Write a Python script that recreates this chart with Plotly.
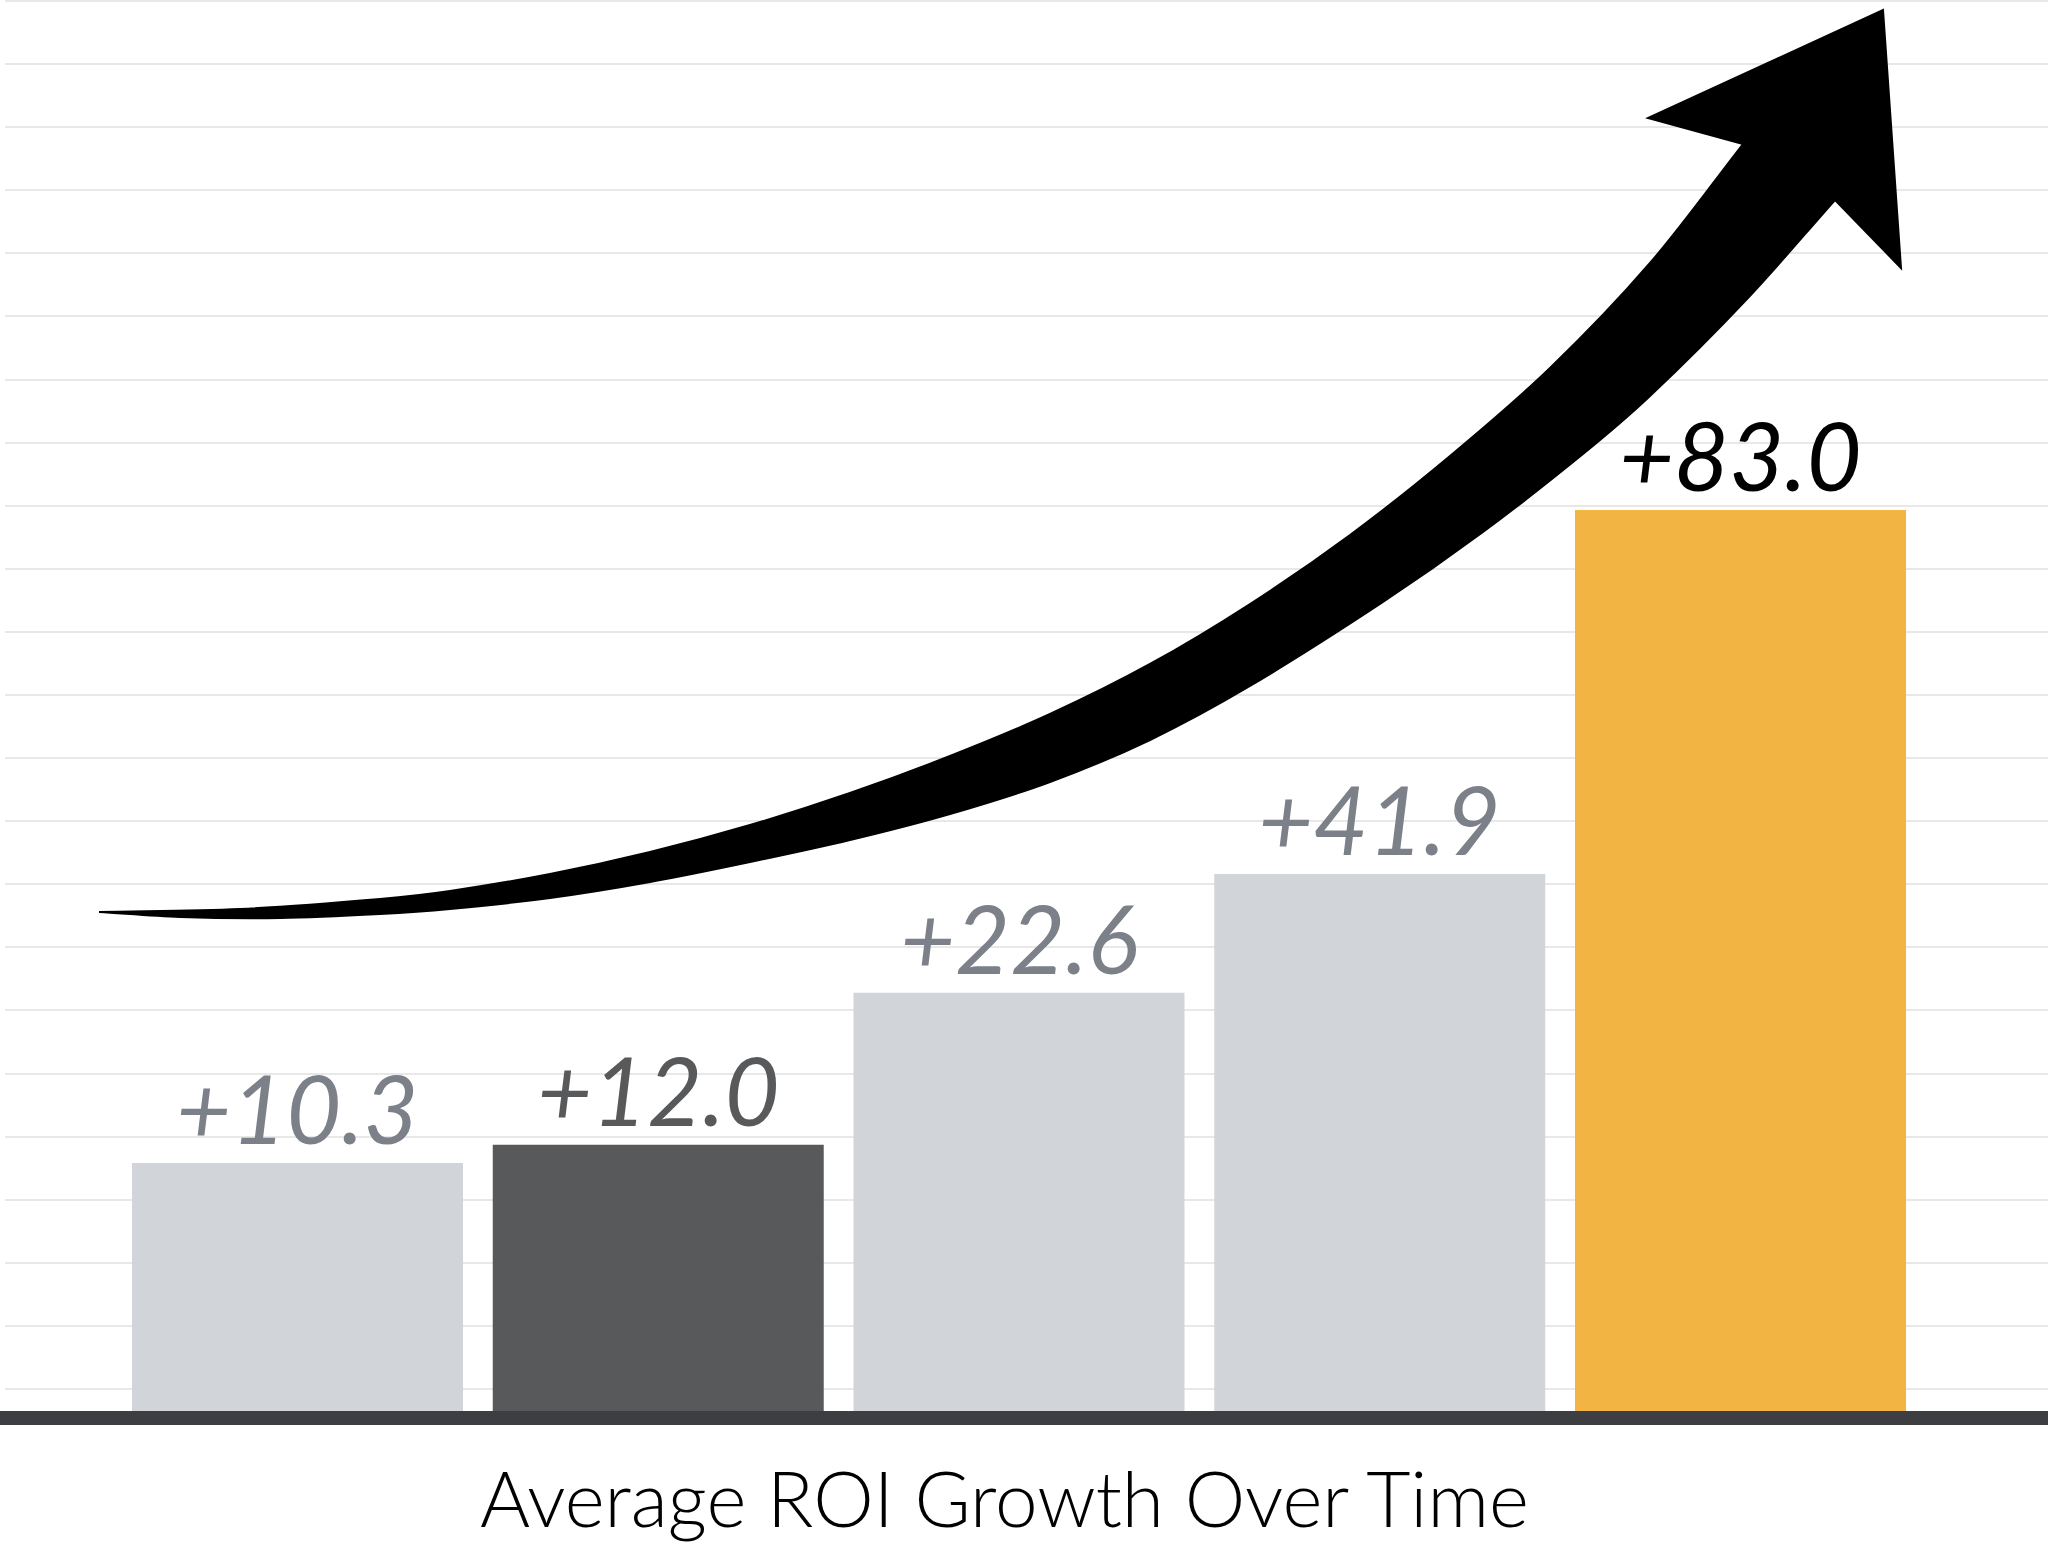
import numpy as np
import plotly.graph_objects as go

# Bars from left to right, with the value printed above each one
roi_labels = ["+10.3", "+12.0", "+22.6", "+41.9", "+83.0"]
# bar heights as drawn in the picture, in gridline steps above the baseline
bar_heights = [3.93, 4.22, 6.63, 8.51, 14.28]
bar_colors = ["#d1d4d9", "#58595b", "#d1d4d9", "#d1d4d9", "#f2b443"]
label_colors = ["#7c8189", "#58595b", "#7c8189", "#7c8189", "#000000"]
chart_title = "Average ROI Growth Over Time"

# page geometry (pixels)
W, H = 2048, 1547
PLOT_L, PLOT_B = 5, 136
PLOT_W = W - PLOT_L
PLOT_H = H - PLOT_B
GRID_PX = 63.09        # spacing of the faint horizontal rules
PITCH_PX = 360.75      # distance between bar centres
X0_PX = 297.5          # centre of the first bar
GRID0 = 0.349          # first rule above the baseline, in grid steps


def to_data(p):
    return (p[0] - X0_PX) / PITCH_PX, (PLOT_H - p[1]) / GRID_PX


def smooth(points):
    """ Smooth curve through the points (chord-length Hermite), as SVG cubic segments. """
    p = np.array(points, dtype=float)
    t = np.concatenate([[0], np.cumsum(np.linalg.norm(np.diff(p, axis=0), axis=1))])
    m = np.zeros_like(p)
    m[0] = (p[1] - p[0]) / (t[1] - t[0])
    m[-1] = (p[-1] - p[-2]) / (t[-1] - t[-2])
    for i in range(1, len(p) - 1):
        m[i] = (p[i + 1] - p[i - 1]) / (t[i + 1] - t[i - 1])
    segs = []
    for i in range(len(p) - 1):
        dt = t[i + 1] - t[i]
        c1 = to_data(p[i] + m[i] * dt / 3)
        c2 = to_data(p[i + 1] - m[i + 1] * dt / 3)
        e = to_data(p[i + 1])
        segs.append("C %.4f,%.4f %.4f,%.4f %.4f,%.4f" % (c1[0], c1[1], c2[0], c2[1], e[0], e[1]))
    return " ".join(segs)


# outline of the decorative growth arrow, in page pixels
arrow_upper = [(99, 912), (240, 909), (380, 899), (450, 891), (550, 874), (650, 852),
               (750, 825), (850, 793), (950, 756), (1050, 714), (1150, 664), (1250, 604),
               (1350, 535), (1450, 456), (1550, 368), (1650, 263), (1743, 144)]
arrow_head = [(1648, 118), (1883, 10), (1901, 268), (1835, 200)]
arrow_lower = [(1835, 200), (1747, 299), (1650, 396), (1583, 454), (1483, 532), (1383, 602),
               (1250, 686), (1150, 740), (1050, 782), (950, 814), (850, 840), (750, 862),
               (650, 882), (550, 898), (450, 909), (380, 914), (280, 918), (180, 917), (99, 912)]

arrow_path = "M %.4f,%.4f " % to_data(arrow_upper[0]) + smooth(arrow_upper)
arrow_path += " " + " ".join("L %.4f,%.4f" % to_data(p) for p in arrow_head)
arrow_path += " " + smooth(arrow_lower) + " Z"

xs = list(range(len(roi_labels)))

fig = go.Figure()
fig.add_trace(go.Bar(x=xs, y=bar_heights, marker=dict(color=bar_colors, line=dict(width=0)),
                     hoverinfo="skip"))

for x, h, txt, col in zip(xs, bar_heights, roi_labels, label_colors):
    fig.add_annotation(x=x, y=h, text=txt, showarrow=False, xanchor="center", yanchor="bottom",
                       yshift=-3, font=dict(family="Lato", size=95, color=col, style="italic"))

fig.add_annotation(xref="paper", yref="paper", x=(1004 - PLOT_L) / PLOT_W, y=-(1545 - PLOT_H) / PLOT_H,
                   text=chart_title, showarrow=False, xanchor="center", yanchor="bottom",
                   font=dict(family="Lato", size=76.5, color="#000000", weight=300))

# topmost rule sits on the upper edge of the plot
top_rule = GRID0 + int(PLOT_H / GRID_PX - GRID0)
fig.add_shape(type="line", xref="paper", yref="y", x0=0, x1=1, y0=top_rule, y1=top_rule,
              line=dict(color="#e8e8e8", width=2), layer="below")
# thick dark baseline
fig.add_shape(type="rect", xref="paper", yref="paper", x0=-PLOT_L / PLOT_W, x1=1,
              y0=-14 / PLOT_H, y1=0, fillcolor="#3d3e42", line=dict(width=0), layer="above")
fig.add_shape(type="path", xref="x", yref="y", path=arrow_path, fillcolor="#000000",
              line=dict(color="#000000", width=2), layer="above")

fig.update_layout(
    width=W, height=H,
    margin=dict(l=PLOT_L, r=0, t=0, b=PLOT_B, pad=0),
    paper_bgcolor="white", plot_bgcolor="white",
    bargap=0.0825, showlegend=False,
    xaxis=dict(range=[(PLOT_L - X0_PX) / PITCH_PX, (W - X0_PX) / PITCH_PX],
               showgrid=False, zeroline=False, showline=False, showticklabels=False,
               ticks="", fixedrange=True),
    yaxis=dict(range=[0, PLOT_H / GRID_PX], tick0=GRID0, dtick=1, showgrid=True,
               gridcolor="#e8e8e8", gridwidth=2, zeroline=False, showline=False,
               showticklabels=False, ticks="", fixedrange=True),
)

fig.write_html("out.html", config={"displayModeBar": False},
               post_script="document.body.style.margin='0';")
